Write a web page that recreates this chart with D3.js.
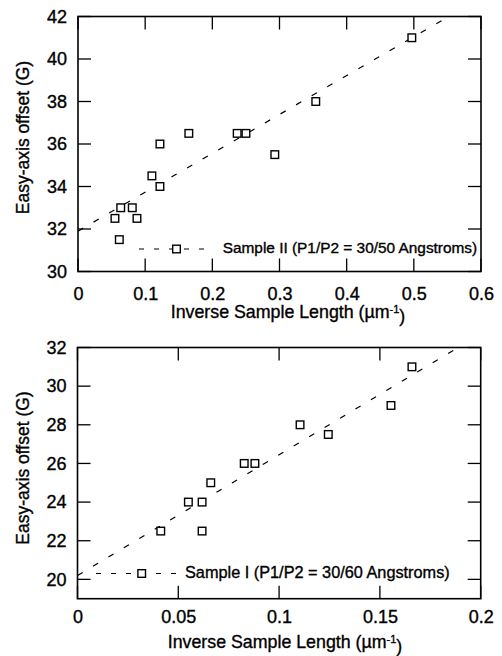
<!DOCTYPE html>
<html>
<head>
<meta charset="utf-8">
<script src="https://cdnjs.cloudflare.com/ajax/libs/d3/7.8.5/d3.min.js"></script>
<style>
body { margin: 0; background: #fff; }
svg text { font-family: "Liberation Sans", Arial, Helvetica, sans-serif; fill: #000; stroke: #000; stroke-width: 0.35px; }
</style>
</head>
<body>
<svg id="chart" width="502" height="656"></svg>
<script>

// top panel: sample II
var lengthII = [0.055, 0.0636, 0.0808, 0.0878, 0.0615, 0.110, 0.122, 0.122, 0.165, 0.237, 0.250, 0.293, 0.354, 0.497];
var offsetII = [32.5, 33, 33, 32.5, 31.5, 34.5, 34, 36, 36.5, 36.5, 36.5, 35.5, 38, 41];
var fitII = [31.9, 18.3];   // intercept, slope
var xTicksII = [0, 0.1, 0.2, 0.3, 0.4, 0.5, 0.6];
var yTicksII = [30, 32, 34, 36, 38, 40, 42];
var labelII = "Sample II (P1/P2 = 30/50 Angstroms)";

// bottom panel: sample I
var lengthI = [0.0413, 0.055, 0.0618, 0.0618, 0.0661, 0.0827, 0.088, 0.1104, 0.1244, 0.1555, 0.1659];
var offsetI = [22.5, 24, 24, 22.5, 25, 26, 26, 28, 27.5, 29, 31];
var fitI = [20.2, 62.5];
var xTicksI = [0, 0.05, 0.1, 0.15, 0.2];
var yTicksI = [20, 22, 24, 26, 28, 30, 32];
var labelI = "Sample I (P1/P2 = 30/60 Angstroms)";

var svg = d3.select("#chart");
var tickLen = 13;
var box = 7.6;

function drawPanel(p) {
    var x = d3.scaleLinear().domain([p.xTicks[0], p.xTicks[p.xTicks.length - 1]]).range([p.left, p.right]);
    var y = d3.scaleLinear().domain(p.yDomain).range([p.bottom, p.top]);
    var g = svg.append("g");

    // frame
    g.append("rect")
        .attr("x", p.left).attr("y", p.top)
        .attr("width", p.right - p.left).attr("height", p.bottom - p.top)
        .attr("fill", "none")
        .attr("stroke", "#000")
        .attr("stroke-width", 1.6);

    // tick labels via d3 axes (tick lines drawn below)
    var axB = g.append("g")
        .attr("transform", "translate(0," + p.bottom + ")")
        .call(d3.axisBottom(x).tickValues(p.xTicks).tickSize(0).tickPadding(p.xPad).tickFormat(String));
    var axL = g.append("g")
        .attr("transform", "translate(" + p.left + ",0)")
        .call(d3.axisLeft(y).tickValues(p.yTicks).tickSize(0).tickPadding(11).tickFormat(String));
    [axB, axL].forEach(function(a) {
        a.select(".domain").remove();
        a.selectAll("text").style("font-size", "18px");
    });

    // inward ticks on all four sides
    var ticks = g.append("g");
    function tickLines(cls, data, x1, x2, y1, y2) {
        ticks.selectAll("." + cls).data(data).enter().append("line")
            .attr("class", cls)
            .attr("x1", x1).attr("x2", x2)
            .attr("y1", y1).attr("y2", y2)
            .attr("stroke", "#000")
            .attr("stroke-width", 1.3);
    }
    tickLines("xb", p.xTicks, x, x, p.bottom, p.bottom - tickLen);
    tickLines("xt", p.xTicks, x, x, p.top, p.top + tickLen);
    tickLines("yl", p.yTicks, p.left, p.left + tickLen, y, y);
    tickLines("yr", p.yTicks, p.right, p.right - tickLen, y, y);

    // dashed fit line, clipped to the frame
    var clipId = "clip" + p.id;
    g.append("clipPath").attr("id", clipId)
        .append("rect")
        .attr("x", p.left).attr("y", p.top)
        .attr("width", p.right - p.left).attr("height", p.bottom - p.top);

    var line = d3.line()
        .x(function(d) { return x(d); })
        .y(function(d) { return y(p.fit[0] + p.fit[1] * d); });

    g.append("path")
        .datum(x.domain())
        .attr("clip-path", "url(#" + clipId + ")")
        .attr("d", line)
        .attr("fill", "none")
        .attr("stroke", "#000")
        .attr("stroke-width", 1.2)
        .attr("stroke-dasharray", "6,12");

    // hollow squares
    g.selectAll(".pt")
        .data(p.xs)
        .enter()
        .append("rect")
        .attr("class", "pt")
        .attr("x", function(d) { return x(d) - box / 2; })
        .attr("y", function(d, i) { return y(p.ys[i]) - box / 2; })
        .attr("width", box)
        .attr("height", box)
        .attr("fill", "#fff")
        .attr("stroke", "#000")
        .attr("stroke-width", 1.4);

    // legend
    g.append("line")
        .attr("x1", p.leg[0]).attr("x2", p.leg[2])
        .attr("y1", p.leg[3]).attr("y2", p.leg[3])
        .attr("stroke", "#000")
        .attr("stroke-width", 1.2)
        .attr("stroke-dasharray", "5,10");
    g.append("rect")
        .attr("x", p.leg[1] - box / 2)
        .attr("y", p.leg[3] - box / 2)
        .attr("width", box).attr("height", box)
        .attr("fill", "#fff")
        .attr("stroke", "#000")
        .attr("stroke-width", 1.4);
    g.append("text")
        .text(p.label)
        .attr("x", p.leg[4])
        .attr("y", p.leg[5])
        .attr("dy", "0.35em")
        .style("font-size", p.legSize + "px");

    // axis titles
    var xt = g.append("text")
        .attr("x", p.xTitle[0])
        .attr("y", p.xTitle[1])
        .attr("text-anchor", "middle")
        .style("font-size", "17.8px");
    xt.append("tspan").text("Inverse Sample Length (\u00b5m");
    xt.append("tspan").text("-1").attr("dy", "-0.5em").style("font-size", "11px");
    xt.append("tspan").text(")").attr("dy", "0.5em");

    g.append("text")
        .text("Easy-axis offset (G)")
        .attr("transform", "translate(" + p.yTitle[0] + "," + p.yTitle[1] + ") rotate(-90)")
        .attr("text-anchor", "middle")
        .style("font-size", "17.5px");
}

drawPanel({
    id: "II", left: 78, right: 481, top: 16.5, bottom: 271.5,
    yDomain: [30, 42], xTicks: xTicksII, yTicks: yTicksII, xPad: 15.5,
    xs: lengthII, ys: offsetII, fit: fitII, label: labelII,
    leg: [139, 176.5, 214, 249, 222.7, 248], legSize: 15.4,
    xTitle: [288, 318.3], yTitle: [28.5, 137.5]
});

drawPanel({
    id: "I", left: 77.5, right: 480.7, top: 347.5, bottom: 598.7,
    yDomain: [19, 32], xTicks: xTicksI, yTicks: yTicksI, xPad: 11.5,
    xs: lengthI, ys: offsetI, fit: fitI, label: labelI,
    leg: [96, 141.7, 176, 573.5, 185, 572.5], legSize: 16.3,
    xTitle: [285, 648.3], yTitle: [29, 468]
});

</script>
</body>
</html>
